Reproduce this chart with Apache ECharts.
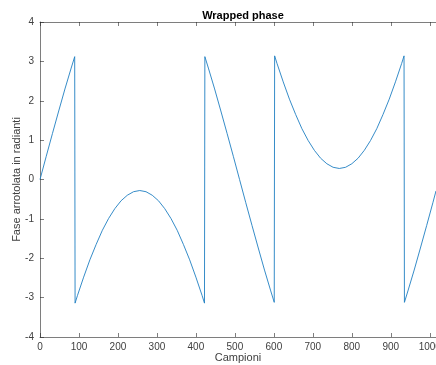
<!DOCTYPE html>
<html>
<head>
<meta charset="utf-8">
<script src="https://cdn.jsdelivr.net/npm/echarts@6/dist/echarts.min.js"></script>
<style>
  html, body { margin: 0; padding: 0; background: #fff; }
  #chart { width: 436px; height: 365px; }
</style>
</head>
<body>
<div id="chart"></div>
<script>
// Sample indices and wrapped phase values (radians)
const samples = [
  0, 16, 32, 48, 64, 80, 89, 90, 96, 112, 128, 144, 160, 176, 192, 208, 224, 240,
  256, 272, 288, 304, 320, 336, 352, 368, 384, 400, 416, 422, 423, 432, 448, 464,
  480, 496, 512, 528, 544, 560, 576, 592, 601, 602, 608, 624, 640, 656, 672, 688,
  704, 720, 736, 752, 768, 784, 800, 816, 832, 848, 864, 880, 896, 912, 928, 934,
  935, 944, 960, 976, 992, 1008, 1016
];
const phase = [
  0.00, 0.59, 1.17, 1.74, 2.30, 2.83, 3.12, -3.14, -2.95, -2.48, -2.04, -1.65, -1.29, -0.99, -0.74, -0.54, -0.40, -0.31,
  -0.28, -0.31, -0.40, -0.54, -0.74, -0.99, -1.29, -1.65, -2.04, -2.48, -2.95, -3.14, 3.12, 2.83, 2.30, 1.74,
  1.17, 0.59, 0.00, -0.59, -1.17, -1.74, -2.30, -2.83, -3.12, 3.14, 2.95, 2.48, 2.04, 1.65, 1.29, 0.99,
  0.74, 0.54, 0.40, 0.31, 0.28, 0.31, 0.40, 0.54, 0.74, 0.99, 1.29, 1.65, 2.04, 2.48, 2.95, 3.14,
  -3.12, -2.83, -2.30, -1.74, -1.17, -0.59, -0.29
];

const titleText = 'Wrapped phase';
const xName = 'Campioni';
const yName = 'Fase arrotolata in radianti';

const FONT = "'Liberation Sans', Arial, Helvetica, sans-serif";
const AXIS_COLOR = '#262626';
const LABEL_COLOR = '#404040';

const points = samples.map((s, i) => [s, phase[i]]);

const chart = echarts.init(document.getElementById('chart'), null, { renderer: 'canvas' });

const tickStyle = { show: true, inside: true, length: 4, lineStyle: { color: AXIS_COLOR, width: 0.6 } };

chart.setOption({
  animation: false,
  backgroundColor: '#ffffff',
  title: {
    text: titleText,
    left: 238,
    textAlign: 'center',
    top: 5,
    textStyle: { fontFamily: FONT, fontSize: 11, fontWeight: 'bold', color: '#000' }
  },
  grid: { left: 40, right: 0, top: 22, bottom: 28, containLabel: false, outerBoundsMode: 'none' },
  xAxis: [
    {
      type: 'value',
      min: 0,
      max: 1016,
      interval: 100,
      name: xName,
      nameLocation: 'middle',
      nameGap: 15,
      nameMoveOverlap: false,
      nameTextStyle: { fontFamily: FONT, fontSize: 11, color: LABEL_COLOR, verticalAlign: 'top' },
      axisLine: { show: true, onZero: false, lineStyle: { color: AXIS_COLOR, width: 0.6 } },
      axisTick: tickStyle,
      axisLabel: {
        fontFamily: FONT, fontSize: 10, color: LABEL_COLOR, margin: 5,
        showMaxLabel: false, formatter: v => String(v)
      },
      splitLine: { show: false }
    },
    {
      type: 'value',
      position: 'top',
      min: 0,
      max: 1016,
      interval: 100,
      axisLine: { show: true, onZero: false, lineStyle: { color: AXIS_COLOR, width: 0.6 } },
      axisTick: tickStyle,
      axisLabel: { show: false },
      splitLine: { show: false }
    }
  ],
  yAxis: {
    type: 'value',
    min: -4,
    max: 4,
    interval: 1,
    name: yName,
    nameLocation: 'middle',
    nameGap: 18,
    nameMoveOverlap: false,
    nameTextStyle: { fontFamily: FONT, fontSize: 11, color: LABEL_COLOR },
    axisLine: { show: true, onZero: false, lineStyle: { color: AXIS_COLOR, width: 0.6 } },
    axisTick: tickStyle,
    axisLabel: { fontFamily: FONT, fontSize: 10, color: LABEL_COLOR, margin: 6 },
    splitLine: { show: false }
  },
  series: [
    {
      type: 'line',
      data: points,
      showSymbol: false,
      symbol: 'none',
      lineStyle: { color: '#1f7fc2', width: 0.9 },
      clip: true
    }
  ]
});
</script>
</body>
</html>
